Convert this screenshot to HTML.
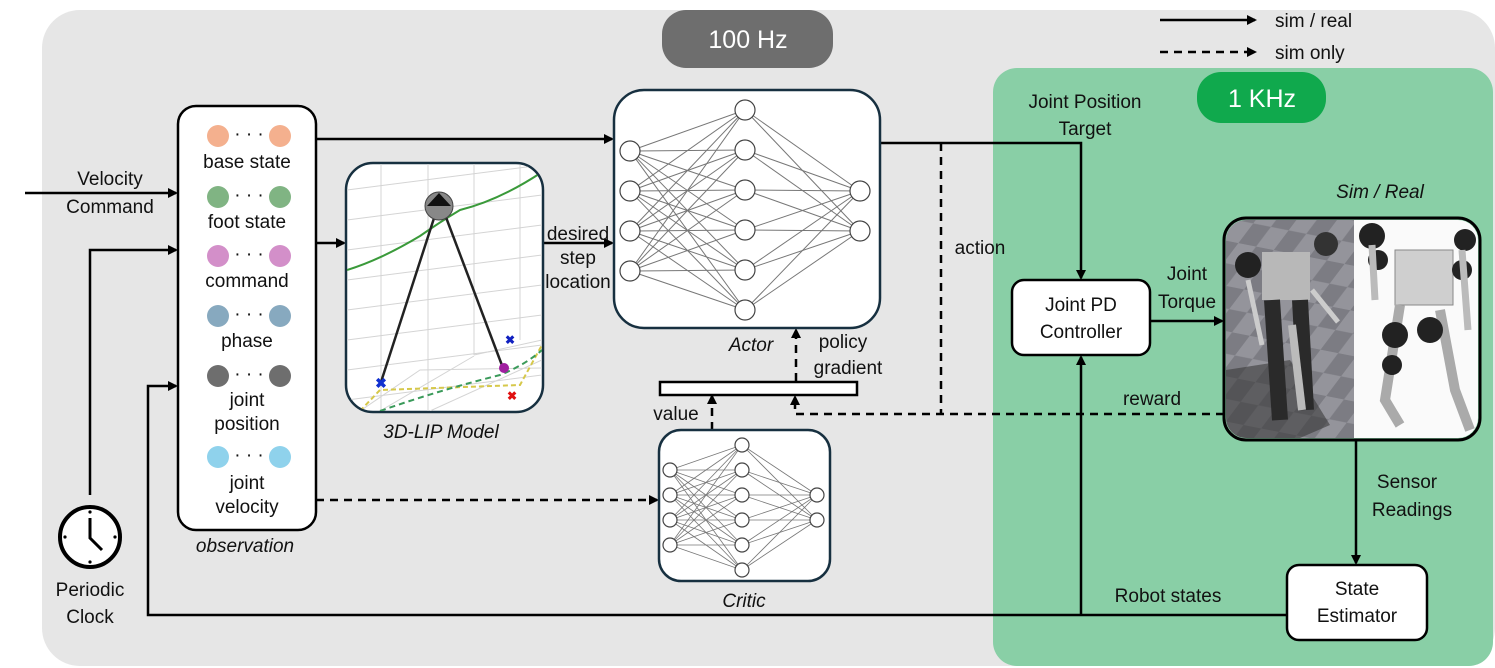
<!DOCTYPE html>
<html><head><meta charset="utf-8"><style>
html,body{margin:0;padding:0;background:#fff;}
svg{display:block;font-family:"Liberation Sans",sans-serif;}
text{font-size:19px;fill:#111;}
</style></head><body>
<svg id="s" width="1495" height="668" viewBox="0 0 1495 668" xmlns="http://www.w3.org/2000/svg">
<defs>
<marker id="ah" markerWidth="10" markerHeight="10" refX="8" refY="5" orient="auto" markerUnits="userSpaceOnUse"><path d="M0,0 L10,5 L0,10 z" fill="#000"/></marker>
<pattern id="chk" width="40" height="40" patternUnits="userSpaceOnUse" patternTransform="skewX(-30) rotate(10)"><rect width="40" height="40" fill="#7c7c83"/><rect width="20" height="20" fill="#94949b"/><rect x="20" y="20" width="20" height="20" fill="#94949b"/></pattern>
<clipPath id="imgclip"><rect x="1226" y="220" width="252" height="218" rx="20"/></clipPath>
<clipPath id="lipclip"><rect x="347" y="164" width="195" height="247" rx="26"/></clipPath>
</defs>
<rect x="42" y="10" width="1453" height="656" rx="38" fill="#e6e6e6"/>
<rect x="993" y="68" width="500" height="598" rx="24" fill="#89cfa6"/>
<rect x="662" y="10" width="171" height="58" rx="24" fill="#6e6e6e"/>
<text x="748" y="48" text-anchor="middle" style="font-size:25px;fill:#fff">100 Hz</text>
<rect x="1197" y="72" width="129" height="51" rx="24" fill="#10a94d"/>
<text x="1262" y="107" text-anchor="middle" style="font-size:25px;fill:#fff">1 KHz</text>
<line x1="1160" y1="20" x2="1255" y2="20" stroke="#000" stroke-width="2.5" marker-end="url(#ah)"/>
<text x="1275" y="27">sim / real</text>
<line x1="1160" y1="52" x2="1255" y2="52" stroke="#000" stroke-width="2.5" stroke-dasharray="8,6" marker-end="url(#ah)"/>
<text x="1275" y="59">sim only</text>

<g stroke="#000" stroke-width="2.5" fill="none">
<line x1="25" y1="193" x2="176" y2="193" marker-end="url(#ah)"/>
<polyline points="90,495 90,250 176,250" marker-end="url(#ah)"/>
<polyline points="1287,615 148,615 148,386 176,386" marker-end="url(#ah)"/>
<line x1="316" y1="139" x2="612" y2="139" marker-end="url(#ah)"/>
<line x1="316" y1="243" x2="344" y2="243" marker-end="url(#ah)"/>
<line x1="543" y1="243" x2="612" y2="243" marker-end="url(#ah)"/>
<polyline points="880,143 1081,143 1081,278" marker-end="url(#ah)"/>
<line x1="1150" y1="321" x2="1222" y2="321" marker-end="url(#ah)"/>
<line x1="1356" y1="440" x2="1356" y2="563" marker-end="url(#ah)"/>
<line x1="1081" y1="615" x2="1081" y2="357" marker-end="url(#ah)"/>
</g>
<g stroke="#000" stroke-width="2.5" fill="none" stroke-dasharray="8,6">
<line x1="316" y1="500" x2="657" y2="500" marker-end="url(#ah)"/>
<line x1="941" y1="143" x2="941" y2="414"/>
<polyline points="1224,414 795,414 795,397" marker-end="url(#ah)"/>
<line x1="796" y1="381" x2="796" y2="330" marker-end="url(#ah)"/>
<line x1="712" y1="430" x2="712" y2="396" marker-end="url(#ah)"/>
</g>
<rect x="660" y="382" width="197" height="13" fill="#fff" stroke="#000" stroke-width="2.5"/>

<rect x="178" y="106" width="138" height="424" rx="18" fill="#fff" stroke="#000" stroke-width="2.5"/>
<g id="obs"></g>
<g text-anchor="middle">
<text x="247" y="168">base state</text>
<text x="247" y="228">foot state</text>
<text x="247" y="287">command</text>
<text x="247" y="347">phase</text>
<text x="247" y="406">joint</text><text x="247" y="430">position</text>
<text x="247" y="489">joint</text><text x="247" y="513">velocity</text>
<text x="245" y="552" font-style="italic">observation</text>
</g>

<rect x="346" y="163" width="197" height="249" rx="27" fill="#fff" stroke="#173040" stroke-width="2.5"/>
<g clip-path="url(#lipclip)" stroke="#d4d4d4" stroke-width="1" fill="none">
<line x1="381" y1="164" x2="381" y2="411"/><line x1="428" y1="164" x2="428" y2="411"/><line x1="474" y1="164" x2="474" y2="355"/><line x1="520" y1="164" x2="520" y2="340"/>
<path d="M347,190 L542,165 M347,220 L542,195 M347,250 L542,225 M347,280 L542,255 M347,310 L542,285 M347,340 L542,315 M347,370 L542,345 M347,400 L542,375"/>
<path d="M430,411 L542,360 M474,355 L542,340 M380,411 L474,356 M360,411 L420,370 L542,368"/>
<path d="M347,270 Q380,260 420,236 Q440,222 460,210 Q500,200 542,172" stroke="#3a9a3a" stroke-width="2"/>
<path d="M360,411 L380,390 L520,385 L542,345" stroke="#d6c84a" stroke-width="2" stroke-dasharray="5,3"/>
<path d="M380,411 Q440,390 500,375 Q525,365 542,350" stroke="#3a9a5a" stroke-width="2" stroke-dasharray="6,4"/>
</g>
<line x1="436" y1="212" x2="381" y2="382" stroke="#222" stroke-width="2.5"/>
<line x1="444" y1="212" x2="503" y2="368" stroke="#222" stroke-width="2.5"/>
<circle cx="439" cy="206" r="14" fill="#888" stroke="#444"/><path d="M427,206 L439,193 L451,206 z" fill="#111"/>
<circle cx="504" cy="368" r="5" fill="#a020a0"/>
<text x="381" y="388" text-anchor="middle" style="font-size:14px;fill:#1030d0;font-weight:bold">✖</text>
<text x="510" y="344" text-anchor="middle" style="font-size:12px;fill:#1020c0;font-weight:bold">✖</text>
<text x="512" y="400" text-anchor="middle" style="font-size:12px;fill:#e01010;font-weight:bold">✖</text>
<text x="441" y="438" text-anchor="middle" font-style="italic">3D-LIP Model</text>
<g style="font-size:17px" text-anchor="middle"><text x="578" y="240">desired</text><text x="578" y="264">step</text><text x="578" y="288">location</text></g>

<rect x="614" y="90" width="266" height="238" rx="30" fill="#fff" stroke="#173040" stroke-width="2.5"/>
<g id="actor"></g>
<text x="751" y="351" text-anchor="middle" font-style="italic">Actor</text>
<text x="843" y="348" text-anchor="middle">policy</text>
<text x="848" y="374" text-anchor="middle">gradient</text>
<text x="676" y="420" text-anchor="middle">value</text>
<text x="980" y="254" text-anchor="middle">action</text>

<rect x="659" y="430" width="171" height="151" rx="22" fill="#fff" stroke="#173040" stroke-width="2.5"/>
<g id="critic"></g>
<text x="744" y="607" text-anchor="middle" font-style="italic">Critic</text>

<g text-anchor="middle">
<text x="1085" y="108">Joint Position</text><text x="1085" y="135">Target</text>
<text x="1380" y="198" font-style="italic">Sim / Real</text>
<text x="1187" y="280">Joint</text><text x="1187" y="308">Torque</text>
<text x="1152" y="405">reward</text>
<text x="1407" y="488">Sensor</text><text x="1412" y="516">Readings</text>
<text x="1168" y="602">Robot states</text>
<text x="90" y="596">Periodic</text><text x="90" y="623">Clock</text>
<text x="110" y="185">Velocity</text><text x="110" y="213">Command</text>
</g>
<rect x="1012" y="280" width="138" height="75" rx="12" fill="#fff" stroke="#000" stroke-width="2.5"/>
<text x="1081" y="311" text-anchor="middle">Joint PD</text><text x="1081" y="338" text-anchor="middle">Controller</text>
<rect x="1287" y="565" width="140" height="75" rx="12" fill="#fff" stroke="#000" stroke-width="2.5"/>
<text x="1357" y="595" text-anchor="middle">State</text><text x="1357" y="622" text-anchor="middle">Estimator</text>

<g clip-path="url(#imgclip)">
<rect x="1226" y="220" width="128" height="218" fill="url(#chk)"/>
<rect x="1354" y="220" width="124" height="218" fill="#fafafa"/>
<path d="M1226,370 L1290,360 L1330,425 L1300,438 L1226,438z" fill="#3a3a3a" opacity="0.6"/>
<rect x="1262" y="252" width="48" height="48" fill="#b8b8b8"/>
<circle cx="1248" cy="265" r="13" fill="#222"/><circle cx="1326" cy="244" r="12" fill="#333"/>
<path d="M1248,280 L1262,345 M1312,290 L1338,322" stroke="#ccc" stroke-width="5"/>
<path d="M1272,300 L1280,420 M1300,300 L1306,410" stroke="#2a2a2a" stroke-width="16"/>
<path d="M1292,325 L1302,410" stroke="#bbb" stroke-width="8"/>
<rect x="1395" y="250" width="58" height="55" fill="#cfcfcf" stroke="#888"/>
<circle cx="1372" cy="236" r="13" fill="#222"/><circle cx="1465" cy="240" r="11" fill="#222"/>
<circle cx="1378" cy="260" r="10" fill="#222"/><circle cx="1462" cy="270" r="10" fill="#222"/>
<path d="M1372,245 L1375,300 M1462,250 L1468,330" stroke="#bbb" stroke-width="7"/>
<path d="M1400,305 L1385,400 L1400,425 M1440,310 L1455,390 L1470,430" stroke="#aaa" stroke-width="10" fill="none"/>
<circle cx="1395" cy="335" r="13" fill="#222"/><circle cx="1430" cy="330" r="13" fill="#222"/><circle cx="1392" cy="365" r="10" fill="#222"/>
</g>
<rect x="1224" y="218" width="256" height="222" rx="22" fill="none" stroke="#000" stroke-width="3"/>

<circle cx="90" cy="537" r="30" fill="#fff" stroke="#000" stroke-width="4"/>
<polyline points="90,518 90,538 102,550" fill="none" stroke="#000" stroke-width="3"/>
<g fill="#000"><circle cx="90" cy="512" r="1.6"/><circle cx="90" cy="562" r="1.6"/><circle cx="65" cy="537" r="1.6"/><circle cx="115" cy="537" r="1.6"/></g>
</svg>
<script>
var NS="http://www.w3.org/2000/svg";
function el(p,t,a){var e=document.createElementNS(NS,t);for(var k in a)e.setAttribute(k,a[k]);p.appendChild(e);return e;}
function net(id,L,r,sw){var g=document.getElementById(id);
for(var i=0;i<L.length-1;i++)L[i].ys.forEach(function(a){L[i+1].ys.forEach(function(b){el(g,"line",{x1:L[i].x,y1:a,x2:L[i+1].x,y2:b,stroke:"#777","stroke-width":sw});});});
L.forEach(function(l){l.ys.forEach(function(y){el(g,"circle",{cx:l.x,cy:y,r:r,fill:"#fff",stroke:"#444","stroke-width":1.2});});});}
net("actor",[{x:630,ys:[151,191,231,271]},{x:745,ys:[110,150,190,230,270,310]},{x:860,ys:[191,231]}],10,1);
net("critic",[{x:670,ys:[470,495,520,545]},{x:742,ys:[445,470,495,520,545,570]},{x:817,ys:[495,520]}],7,0.8);
var og=document.getElementById("obs");
[[136,"#f4b08e"],[197,"#80b483"],[256,"#d38fc9"],[316,"#87a9bf"],[376,"#6e6e6e"],[457,"#8fd2ec"]].forEach(function(r){
el(og,"circle",{cx:218,cy:r[0],r:11,fill:r[1]});el(og,"circle",{cx:280,cy:r[0],r:11,fill:r[1]});
var t=el(og,"text",{x:249,y:r[0]+4,"text-anchor":"middle"});t.textContent="· · ·";});
</script>
</body></html>
